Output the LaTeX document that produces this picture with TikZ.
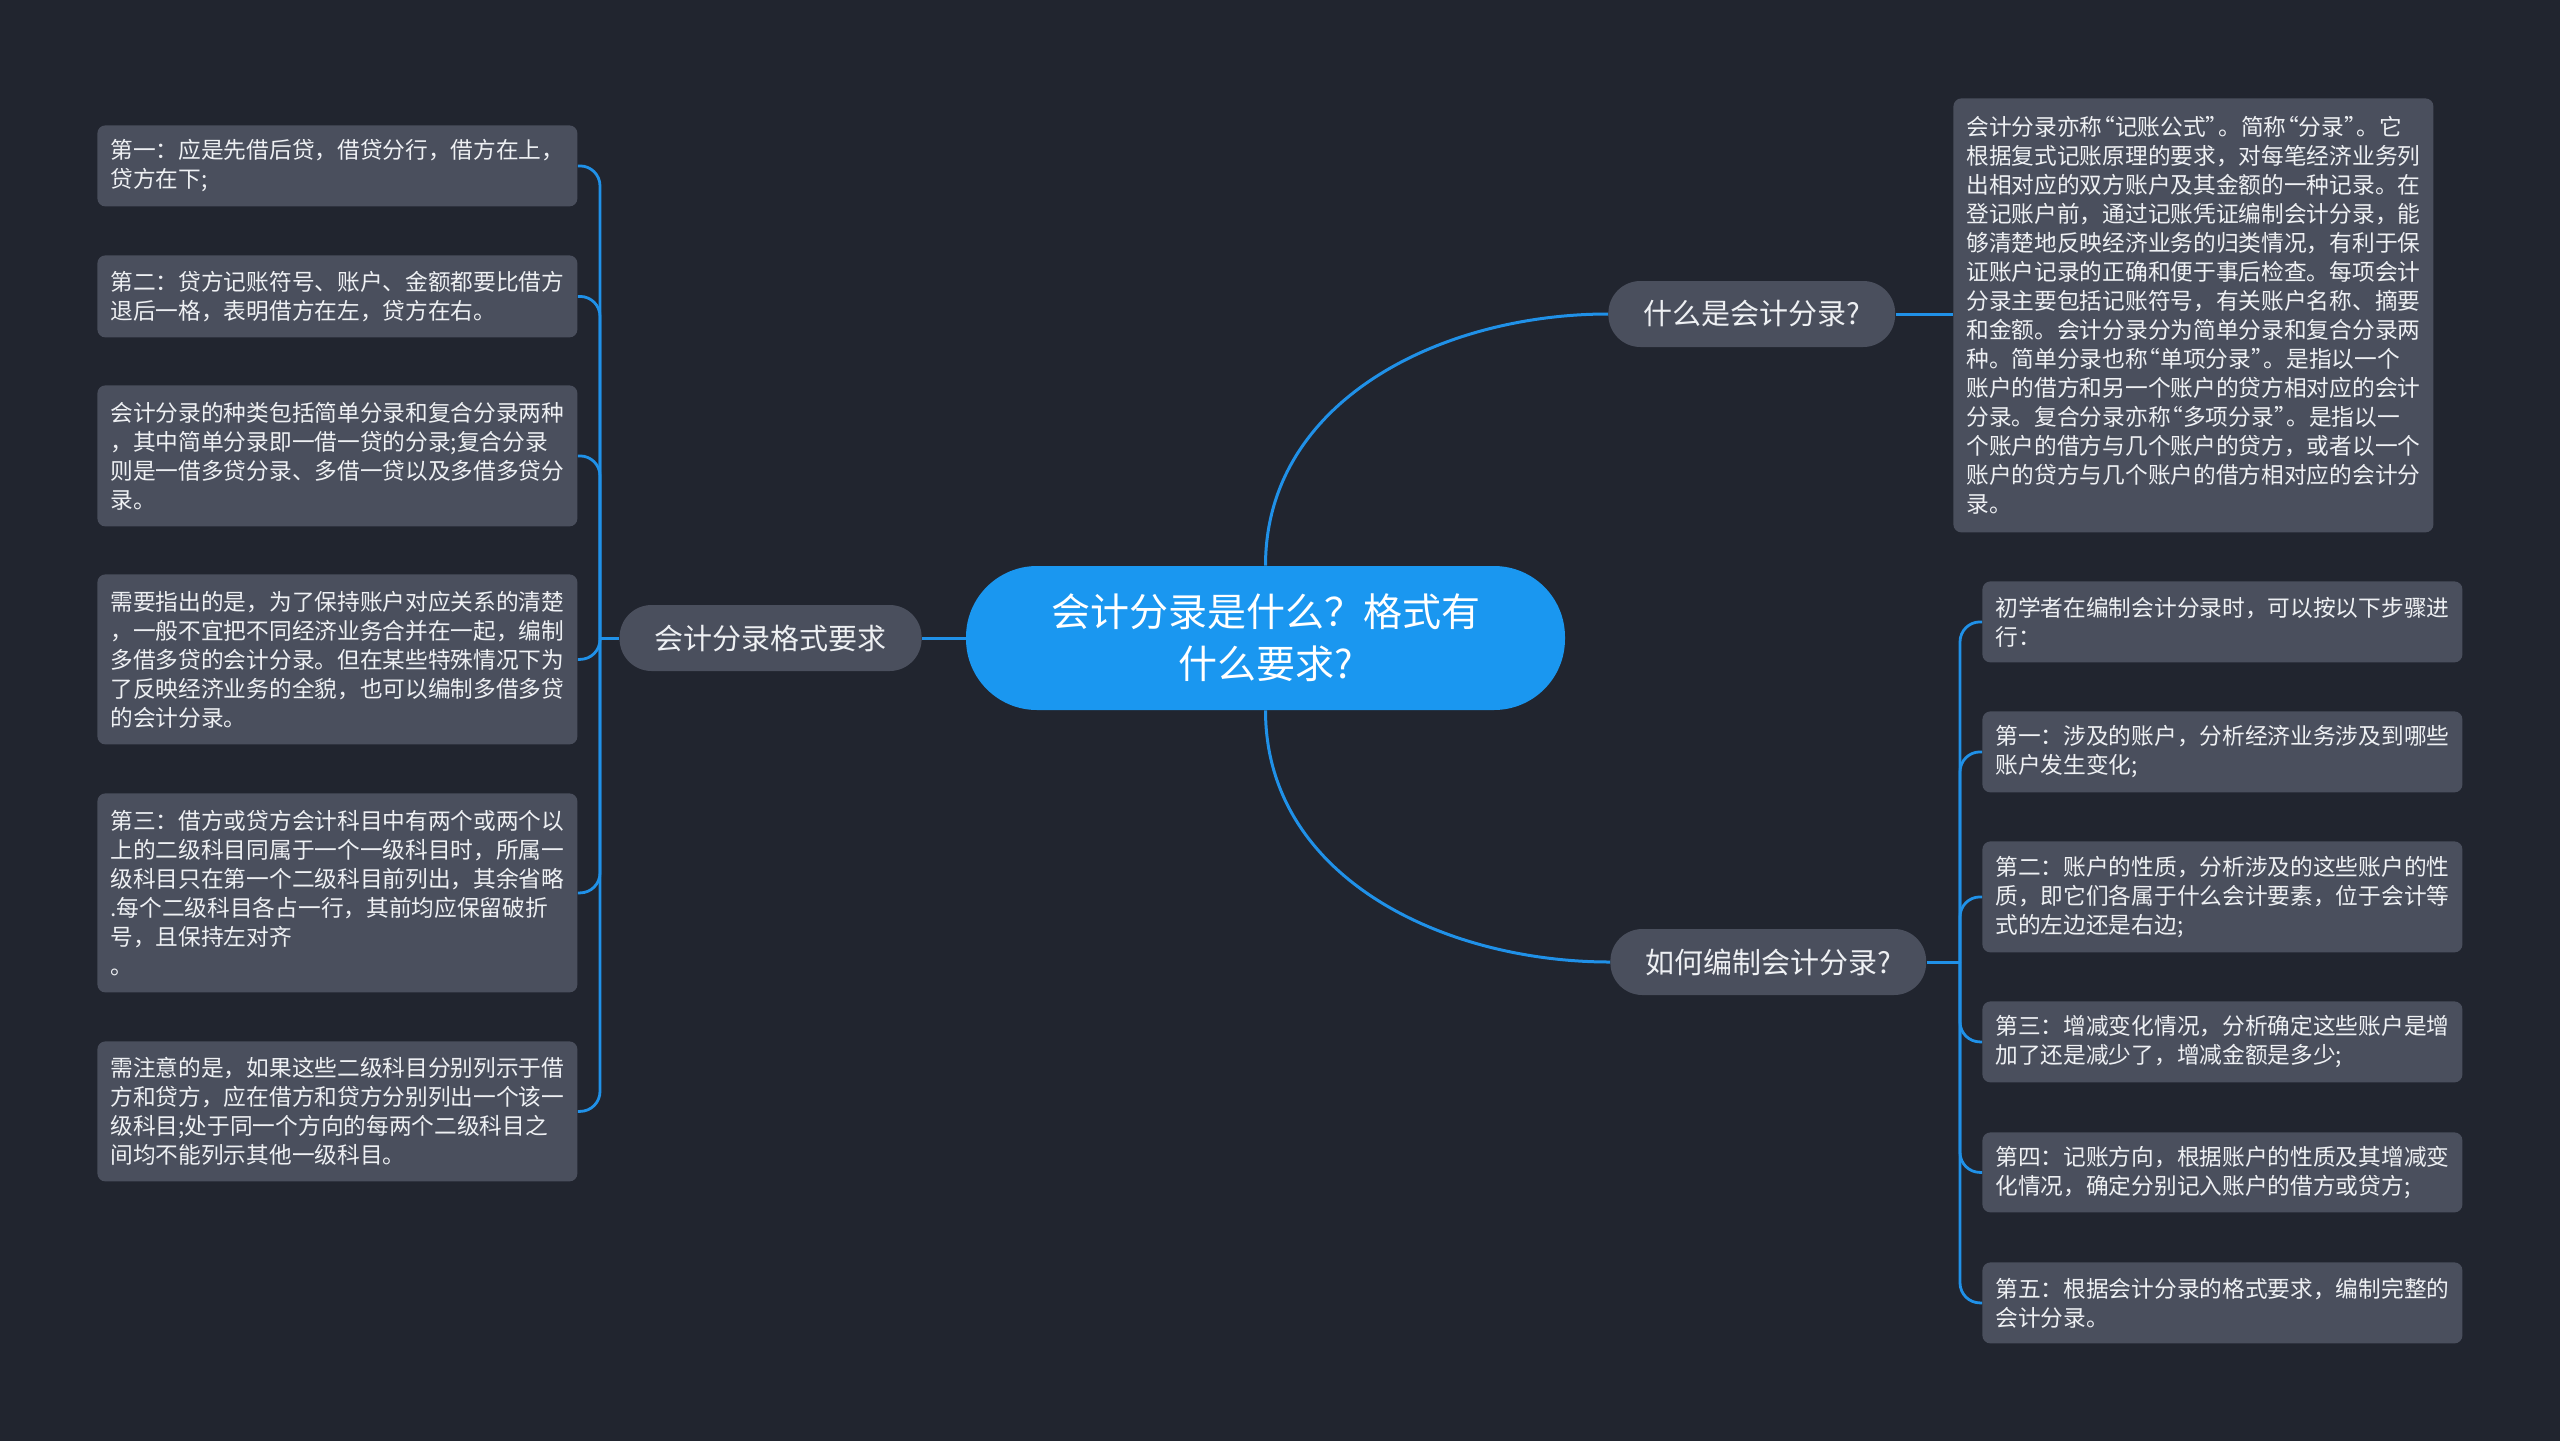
\documentclass[tikz,border=0pt]{standalone}
\usepackage{fontspec}
\setmainfont{Noto Sans CJK SC}
\usetikzlibrary{calc}

\definecolor{bgdark}{HTML}{21252F}
\definecolor{cardgray}{HTML}{4A4F5D}
\definecolor{rootblue}{HTML}{1A97F0}
\definecolor{linkblue}{HTML}{2091E8}
\definecolor{textlight}{HTML}{EEF0F3}

% narrow quotes
\newcommand{\qopen}{\hspace{-0.45em}“}
\newcommand{\qclose}{”\hspace{-0.45em}}

\begin{document}
\begin{tikzpicture}[x=0.5pt, y=-0.5pt,
    root/.style={fill=rootblue, text=white, rounded corners=35.5pt, minimum width=299.5pt,
        minimum height=72pt, align=center, font=\fontsize{19.5}{26}\selectfont},
    topic/.style={fill=cardgray, text=textlight, rounded corners=16pt, minimum height=33pt,
        inner xsep=17.5pt, font=\fontsize{14.5}{18}\selectfont},
    card/.style={fill=cardgray, text=textlight, rounded corners=4pt, anchor=north west,
        text width=227pt, inner xsep=6.5pt, inner ysep=0pt, align=left,
        font=\fontsize{11.35}{14.5}\selectfont},
    link/.style={draw=linkblue, line width=1.5pt},
    fork/.style={draw=linkblue, line width=1.4pt, rounded corners=10pt}]

    \fill[bgdark] (0,0) rectangle (2560,1441);

    % Root
    \node[root] (root) at (1265.5,638) {会计分录是什么？格式有\\什么要求?};

    % Topics
    \node[topic, anchor=east] (fmt) at (922,638) {会计分录格式要求};
    \node[topic, anchor=west] (what) at (1608,314) {什么是会计分录?};
    \node[topic, anchor=west] (how) at (1610,962) {如何编制会计分录?};

    % Left cards
    \node[card, minimum height=40.5pt] (l1) at (97,125) {第一：应是先借后贷，借贷分行，借方在上，\\贷方在下;};
    \node[card, minimum height=41pt] (l2) at (97,255) {第二：贷方记账符号、账户、金额都要比借方\\退后一格，表明借方在左，贷方在右。};
    \node[card, minimum height=70.5pt] (l3) at (97,385) {会计分录的种类包括简单分录和复合分录两种\\，其中简单分录即一借一贷的分录;复合分录\\则是一借多贷分录、多借一贷以及多借多贷分\\录。};
    \node[card, minimum height=85pt] (l4) at (97,574) {需要指出的是，为了保持账户对应关系的清楚\\，一般不宜把不同经济业务合并在一起，编制\\多借多贷的会计分录。但在某些特殊情况下为\\了反映经济业务的全貌，也可以编制多借多贷\\的会计分录。};
    \node[card, minimum height=99.5pt] (l5) at (97,793) {第三：借方或贷方会计科目中有两个或两个以\\上的二级科目同属于一个一级科目时，所属一\\级科目只在第一个二级科目前列出，其余省略\\.每个二级科目各占一行，其前均应保留破折\\号，且保持左对齐\\。};
    \node[card, minimum height=70pt] (l6) at (97,1041) {需注意的是，如果这些二级科目分别列示于借\\方和贷方，应在借方和贷方分别列出一个该一\\级科目;处于同一个方向的每两个二级科目之\\间均不能列示其他一级科目。};

    % Right cards
    \node[card, minimum height=217pt] (def) at (1953,98) {会计分录亦称\qopen 记账公式\qclose 。简称\qopen 分录\qclose 。它\\根据复式记账原理的要求，对每笔经济业务列\\出相对应的双方账户及其金额的一种记录。在\\登记账户前，通过记账凭证编制会计分录，能\\够清楚地反映经济业务的归类情况，有利于保\\证账户记录的正确和便于事后检查。每项会计\\分录主要包括记账符号，有关账户名称、摘要\\和金额。会计分录分为简单分录和复合分录两\\种。简单分录也称\qopen 单项分录\qclose 。是指以一个\\账户的借方和另一个账户的贷方相对应的会计\\分录。复合分录亦称\qopen 多项分录\qclose 。是指以一\\个账户的借方与几个账户的贷方，或者以一个\\账户的贷方与几个账户的借方相对应的会计分\\录。};
    \node[card, minimum height=40.5pt] (r1) at (1982,581) {初学者在编制会计分录时，可以按以下步骤进\\行：};
    \node[card, minimum height=40.5pt] (r2) at (1982,711) {第一：涉及的账户，分析经济业务涉及到哪些\\账户发生变化;};
    \node[card, minimum height=55.5pt] (r3) at (1982,841) {第二：账户的性质，分析涉及的这些账户的性\\质，即它们各属于什么会计要素，位于会计等\\式的左边还是右边;};
    \node[card, minimum height=40.5pt] (r4) at (1982,1001) {第三：增减变化情况，分析确定这些账户是增\\加了还是减少了，增减金额是多少;};
    \node[card, minimum height=40pt] (r5) at (1982,1132) {第四：记账方向，根据账户的性质及其增减变\\化情况，确定分别记入账户的借方或贷方;};
    \node[card, minimum height=40.5pt] (r6) at (1982,1262) {第五：根据会计分录的格式要求，编制完整的\\会计分录。};

    % Connectors
    \coordinate (hubL) at (600,638);
    \coordinate (hubR) at (1960,962);
    \draw[link] (root.west) -- (fmt.east);
    \draw[link] (fmt.west) -- (hubL);
    \foreach \n in {l1,l2,l3,l4,l5,l6}
        \draw[fork] (hubL) |- (\n.east);
    \draw[link] (root.north) to[out=90, in=180] (what.west);
    \draw[link] (what.east) -- (what.east -| def.west);
    \draw[link] (root.south) to[out=-90, in=180] (how.west);
    \draw[link] (how.east) -- (hubR);
    \foreach \n in {r1,r2,r3,r4,r5,r6}
        \draw[fork] (hubR) |- (\n.west);
\end{tikzpicture}
\end{document}
